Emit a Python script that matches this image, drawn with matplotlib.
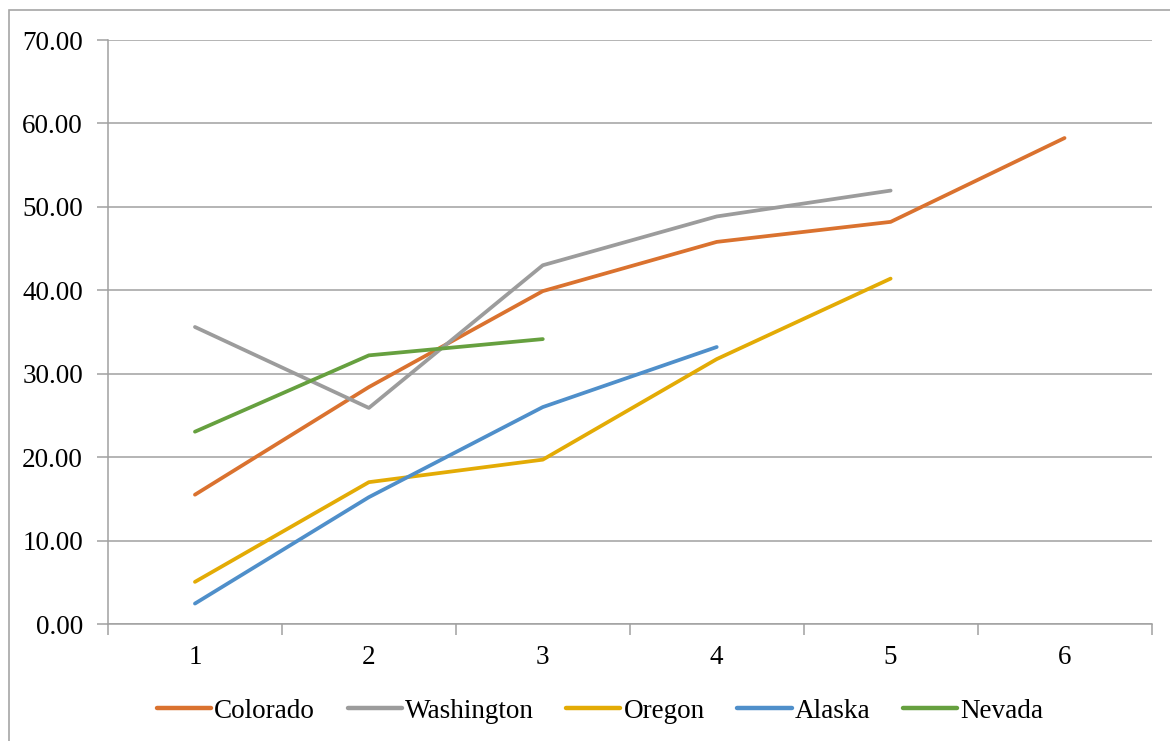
import matplotlib
matplotlib.use("Agg")
import matplotlib.pyplot as plt
from matplotlib.patches import Rectangle

# Data series (values per period)
periods = [1, 2, 3, 4, 5, 6]
colorado = [15.5, 28.4, 39.9, 45.8, 48.2, 58.25]
washington = [35.6, 25.9, 43.0, 48.85, 51.95]
oregon = [5.05, 17.0, 19.7, 31.75, 41.4]
alaska = [2.45, 15.2, 26.0, 33.2]
nevada = [23.05, 32.2, 34.15]

series_names = ["Colorado", "Washington", "Oregon", "Alaska", "Nevada"]
series_values = [colorado, washington, oregon, alaska, nevada]
series_colors = ["#DA722F", "#9C9C9C", "#E3AB05", "#4F8FCA", "#66A03F"]

y_ticks = [0, 10, 20, 30, 40, 50, 60, 70]

W, H = 1170, 741
fig = plt.figure(figsize=(W / 100, H / 100), dpi=100)
fig.patch.set_facecolor("white")

# chart-area frame (left and top edges visible)
fig.patches.append(Rectangle((9 / W, -0.2), 1.2, 1.2 - 10 / H, transform=fig.transFigure,
                             fill=False, edgecolor="#A6A6A6", linewidth=1.2))

ax = fig.add_axes([108 / W, 1 - 624 / H, (1151.5 - 108) / W, (624 - 40) / H])

font = "Liberation Serif"
fs = 19.5
grid_c = "#A0A0A0"

for name, vals, col in zip(series_names, series_values, series_colors):
    ax.plot(periods[:len(vals)], vals, color=col, linewidth=2.7, label=name,
            solid_capstyle="round", solid_joinstyle="round")

ax.set_xlim(0.5, 6.5)
ax.set_ylim(0, 70)
ax.set_yticks(y_ticks)
ax.set_yticklabels([f"{v:.2f}" for v in y_ticks], fontfamily=font, fontsize=fs)
ax.yaxis.grid(True, color=grid_c, linewidth=1.1)
ax.set_axisbelow(True)

# category boundaries as major ticks, labels centred on minor ticks
ax.set_xticks([p - 0.5 for p in periods] + [6.5])
ax.set_xticklabels([])
ax.set_xticks(periods, minor=True)
ax.set_xticklabels([str(p) for p in periods], minor=True, fontfamily=font, fontsize=fs)
ax.tick_params(axis="x", which="major", length=8, width=1.1, color=grid_c, direction="out")
ax.tick_params(axis="x", which="minor", length=0, pad=15)
ax.tick_params(axis="y", length=8, width=1.1, color=grid_c, pad=10)

for side in ["top", "right"]:
    ax.spines[side].set_visible(False)
for side in ["left", "bottom"]:
    ax.spines[side].set_color(grid_c)
    ax.spines[side].set_linewidth(1.1)

leg = fig.legend(loc="center", bbox_to_anchor=(600 / W, 1 - 711 / H), ncol=5,
                 frameon=False, prop={"family": font, "size": fs},
                 handlelength=2.0, handletextpad=0.12, columnspacing=1.2,
                 borderaxespad=0)
for line in leg.get_lines():
    line.set_linewidth(3.2)

fig.savefig("out.png", dpi=100, facecolor="white")
